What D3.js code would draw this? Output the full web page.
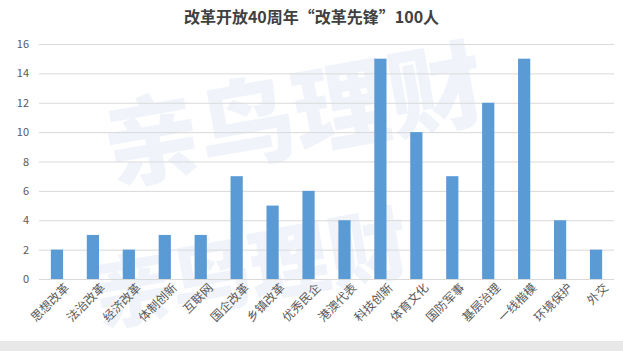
<!DOCTYPE html>
<html>
<head>
<meta charset="utf-8">
<script src="https://cdn.jsdelivr.net/npm/d3@7"></script>
<style>
  body { margin: 0; background: #fff; }
  text { font-family: "Noto Sans CJK SC", "Noto Sans", sans-serif; }
</style>
</head>
<body>
<div id="chart"></div>
<script>
// data
const categories = ["思想改革", "法治改革", "经济改革", "体制创新", "互联网", "国企改革", "乡镇改革", "优秀民企",
  "港澳代表", "科技创新", "体育文化", "国防军事", "基层治理", "一线楷模", "环境保护", "外交"];
const counts = [2, 3, 2, 3, 3, 7, 5, 6, 4, 15, 10, 7, 12, 15, 4, 2];
const yTicks = [0, 2, 4, 6, 8, 10, 12, 14, 16];
const title = "改革开放40周年“改革先锋”100人";
const watermark = "亲鸟理财";

const W = 623, H = 351;
const margin = {top: 44, right: 9, bottom: 72, left: 39},
    width = W - margin.left - margin.right,
    height = H - margin.top - margin.bottom;

const root = d3.select("#chart")
  .append("svg")
  .attr("width", W)
  .attr("height", H);

// bottom frame strip
root.append("rect")
  .attr("x", 0).attr("y", 341).attr("width", W).attr("height", 10)
  .attr("fill", "#e8e8e8");

// faint watermark
root.append("text")
  .attr("transform", "translate(300,150) rotate(-10)")
  .attr("text-anchor", "middle")
  .attr("fill", "#f0f4fa")
  .style("font-size", "96px")
  .style("font-weight", "900")
  .text(watermark);
root.append("text")
  .attr("transform", "translate(255,298) rotate(-10)")
  .attr("text-anchor", "middle")
  .attr("fill", "#f0f4fa")
  .style("font-size", "80px")
  .style("font-weight", "900")
  .text(watermark);

root.append("text")
  .attr("x", W / 2)
  .attr("y", 23)
  .attr("text-anchor", "middle")
  .attr("fill", "#404040")
  .style("font-size", "16px")
  .style("font-weight", "bold")
  .text(title);

const svg = root.append("g")
  .attr("transform", `translate(${margin.left},${margin.top})`);

const x = d3.scaleBand()
  .domain(categories)
  .range([0, width])
  .paddingInner(0.66)
  .paddingOuter(0.33);

const y = d3.scaleLinear()
  .domain([0, 16])
  .range([height, 0]);

// gridlines
svg.append("g")
  .selectAll("line")
  .data(yTicks)
  .join("line")
  .attr("x1", 0).attr("x2", width)
  .attr("y1", d => y(d) + 0.5).attr("y2", d => y(d) + 0.5)
  .attr("stroke", "#d9d9d9")
  .attr("stroke-width", 1);

// y labels
svg.append("g")
  .call(d3.axisLeft(y).tickValues(yTicks).tickSize(0).tickPadding(10))
  .call(g => g.select(".domain").remove())
  .selectAll("text")
  .attr("fill", "#595959")
  .style("font-size", "11px");

// bars
svg.selectAll(".bar")
  .data(counts)
  .join("rect")
  .attr("class", "bar")
  .attr("x", (d, i) => x(categories[i]))
  .attr("width", x.bandwidth())
  .attr("y", d => y(d))
  .attr("height", d => height - y(d))
  .attr("fill", "#5b9bd5");

// x labels
svg.append("g")
  .attr("transform", `translate(0,${height})`)
  .call(d3.axisBottom(x).tickSize(0).tickPadding(10))
  .call(g => g.select(".domain").remove())
  .selectAll("text")
  .attr("fill", "#595959")
  .style("font-size", "12px")
  .style("text-anchor", "end")
  .attr("dx", "0.2em")
  .attr("dy", "0.5em")
  .attr("transform", "rotate(-45)");
</script>
</body>
</html>
